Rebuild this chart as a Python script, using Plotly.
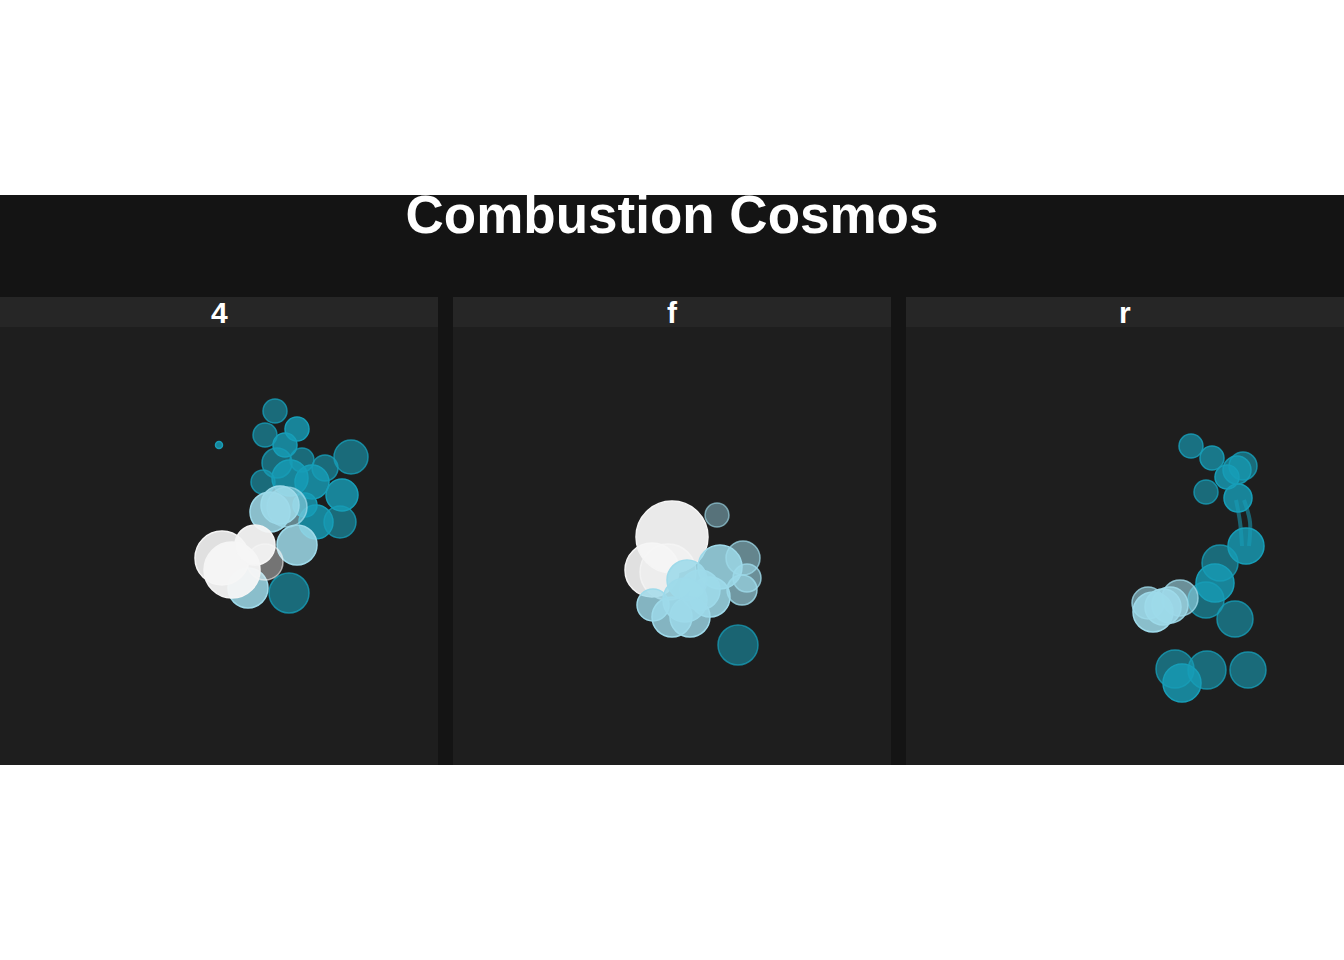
import plotly.graph_objects as go
from plotly.subplots import make_subplots

# ---- data (panel-local units) ----
panels = ["4", "f", "r"]

# panel "4"
p4_x = [275, 265, 297, 285, 219, 351, 277, 302, 325, 263, 290, 312, 342, 305, 340, 316, 289,
        280, 270, 287, 297, 248,
        265, 222, 232, 255]
p4_y = [354, 330, 336, 320, 320, 308, 302, 305, 297, 283, 287, 283, 270, 260, 243, 243, 172,
        260, 253, 258, 220, 177,
        203, 207, 195, 220]
p4_size = [24, 24, 24, 24, 7, 34, 30, 24, 26, 24, 36, 34, 32, 24, 32, 34, 40,
           38, 40, 40, 40, 40,
           36, 54, 56, 40]
p4_tone = ["teal"] * 17 + ["light"] * 5 + ["white"] * 4
p4_alpha = [0.6, 0.6, 0.8, 0.8, 0.8, 0.6, 0.6, 0.6, 0.6, 0.6, 0.8, 0.8, 0.8, 0.8, 0.6, 0.8, 0.6,
            0.85, 0.85, 0.55, 0.85, 0.85,
            0.4, 0.9, 0.95, 0.95]

# panel "f"
pf_x = [199, 215, 219,
        264, 290, 294, 289, 267, 257, 247, 234, 232, 200, 219, 237,
        285]
pf_y = [195, 193, 228,
        250, 207, 187, 175, 198, 168, 175, 185, 165, 160, 148, 148,
        120]
pf_size = [54, 56, 72,
           24, 34, 28, 30, 44, 40, 40, 40, 44, 32, 40, 40,
           40]
pf_tone = ["white"] * 3 + ["light"] * 12 + ["teal"]
pf_alpha = [0.9, 0.6, 0.95,
            0.45, 0.55, 0.6, 0.65, 0.85, 0.85, 0.85, 0.9, 0.85, 0.8, 0.8, 0.8,
            0.55]

# panel "r"
pr_x = [285, 306, 337, 331, 321, 300, 332, 340, 314, 300, 309, 329, 269, 301, 342, 276,
        274, 264, 242, 257, 247]
pr_y = [319, 307, 299, 295, 288, 273, 267, 219, 202, 165, 182, 146, 96, 95, 95, 82,
        167, 160, 162, 158, 153]
pr_size = [24, 24, 28, 28, 24, 24, 28, 36, 36, 36, 38, 36, 38, 38, 36, 38,
           36, 36, 32, 36, 40]
pr_tone = ["teal"] * 16 + ["light"] * 5
pr_alpha = [0.65, 0.7, 0.6, 0.7, 0.8, 0.6, 0.8, 0.8, 0.6, 0.6, 0.8, 0.6, 0.6, 0.6, 0.6, 0.8,
            0.6, 0.7, 0.6, 0.8, 0.85]

# trail segments visible in panel "r"
pr_line_x = [330, 334, 336, None, 338, 344, 343]
pr_line_y = [265, 243, 219, None, 265, 243, 219]

TONES = {"teal": (23, 158, 184), "light": (158, 218, 234), "white": (245, 245, 245)}
BG_BAND = "#141414"
PANEL_BG = "#1e1e1e"
STRIP_BG = "#262626"

W, H = 1344, 960
PANEL = 438
GAP = 15
TOP, BOTTOM = 327, 195


def rgba(tone, a):
    r, g, b = TONES[tone]
    return f"rgba({r},{g},{b},{a:.2f})"


fig = make_subplots(rows=1, cols=3, horizontal_spacing=GAP / W)

data = [
    (p4_x, p4_y, p4_size, p4_tone, p4_alpha),
    (pf_x, pf_y, pf_size, pf_tone, pf_alpha),
    (pr_x, pr_y, pr_size, pr_tone, pr_alpha),
]

fig.add_trace(
    go.Scatter(
        x=pr_line_x, y=pr_line_y, mode="lines",
        line=dict(color=rgba("teal", 0.55), width=4, shape="spline"),
        hoverinfo="skip",
    ),
    row=1, col=3,
)

for i, (xs, ys, ss, tones, alphas) in enumerate(data):
    fig.add_trace(
        go.Scatter(
            x=xs, y=ys, mode="markers",
            marker=dict(
                size=ss,
                opacity=1,  # bubble traces default to 0.7 otherwise
                color=[rgba(t, a) for t, a in zip(tones, alphas)],
                line=dict(color=[rgba(t, min(1, a + 0.2)) for t, a in zip(tones, alphas)], width=1.5),
            ),
            hoverinfo="skip",
        ),
        row=1, col=i + 1,
    )

fig.update_xaxes(range=[0, PANEL], visible=False, showgrid=False, zeroline=False)
fig.update_yaxes(range=[0, PANEL], visible=False, showgrid=False, zeroline=False)

strip_h = 30 / PANEL
shapes = [dict(type="rect", xref="paper", yref="paper", x0=0, x1=1, y0=0,
               y1=(H - BOTTOM - 195) / PANEL, fillcolor=BG_BAND, line_width=0, layer="below")]
annotations = []
for i, name in enumerate(panels):
    dom = fig.layout["xaxis" if i == 0 else f"xaxis{i + 1}"].domain
    shapes.append(dict(type="rect", xref="paper", yref="paper", x0=dom[0], x1=dom[1], y0=0, y1=1,
                       fillcolor=PANEL_BG, line_width=0, layer="below"))
    shapes.append(dict(type="rect", xref="paper", yref="paper", x0=dom[0], x1=dom[1], y0=1, y1=1 + strip_h,
                       fillcolor=STRIP_BG, line_width=0, layer="below"))
    annotations.append(dict(text=name, xref="paper", yref="paper", x=(dom[0] + dom[1]) / 2,
                            y=1 + strip_h / 2, xanchor="center", yanchor="middle", showarrow=False,
                            font=dict(family="Liberation Sans", size=30, color="white", weight="bold")))

fig.update_layout(
    width=W, height=H,
    paper_bgcolor="white", plot_bgcolor=PANEL_BG,
    margin=dict(l=0, r=0, t=TOP, b=BOTTOM),
    showlegend=False,
    hovermode=False,
    shapes=shapes,
    annotations=annotations,
    title=dict(text="Combustion Cosmos", x=0.5, xanchor="center", xref="paper",
               yref="container", y=1 - 214 / H, yanchor="middle",
               font=dict(family="Liberation Sans", size=53, color="white", weight="bold")),
)

fig.write_html("out.html", config={"displayModeBar": False},
               post_script="document.body.style.margin='0';")
